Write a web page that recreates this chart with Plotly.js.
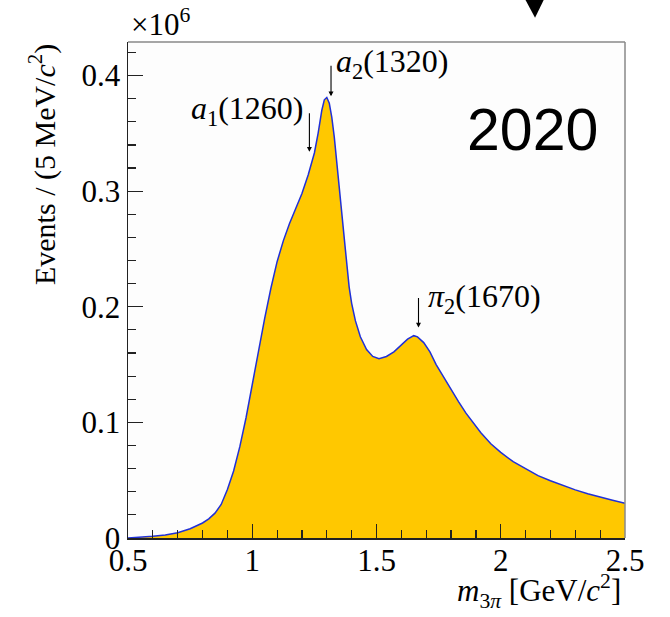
<!DOCTYPE html>
<html>
<head>
<meta charset="utf-8">
<script src="https://cdn.plot.ly/plotly-3.0.1.min.js"></script>
<style>html,body{margin:0;padding:0;background:#fff;}#chart{width:670px;height:617px;}</style>
</head>
<body>
<div id="chart"></div>
<script>
// m_3pi bin centres [GeV/c^2]
const mass = [0.50,0.55,0.60,0.65,0.70,0.75,0.80,0.825,0.85,0.875,0.90,0.925,0.95,0.975,1.00,1.025,1.05,1.075,1.10,1.125,1.15,1.175,1.20,1.225,1.25,1.265,1.28,1.29,1.30,1.31,1.32,1.33,1.34,1.35,1.36,1.375,1.39,1.40,1.415,1.435,1.46,1.485,1.51,1.54,1.57,1.60,1.625,1.65,1.665,1.69,1.715,1.74,1.77,1.80,1.83,1.86,1.89,1.92,1.96,2.00,2.05,2.10,2.15,2.20,2.25,2.30,2.35,2.40,2.45,2.50];
// Events per 5 MeV/c^2, in units of 10^6
const events = [0.0000,0.0005,0.0015,0.0025,0.0045,0.0080,0.0130,0.0165,0.0215,0.029,0.042,0.058,0.079,0.104,0.133,0.162,0.190,0.216,0.239,0.257,0.272,0.285,0.298,0.314,0.333,0.350,0.370,0.379,0.381,0.376,0.364,0.347,0.324,0.300,0.277,0.249,0.217,0.203,0.188,0.174,0.163,0.157,0.155,0.157,0.161,0.167,0.172,0.175,0.174,0.169,0.161,0.150,0.139,0.128,0.118,0.108,0.0998,0.091,0.0815,0.074,0.066,0.0598,0.054,0.0495,0.0455,0.0416,0.0383,0.0353,0.0327,0.0300];
const yTicks = [0,0.1,0.2,0.3,0.4];
const yTickText = ["0","0.1","0.2","0.3","0.4"];
const xTicks = [0.5,1,1.5,2,2.5];
const xTickText = ["0.5","1","1.5","2","2.5"];
const resonances = ["<i>a</i><sub>1</sub>(1260)","<i>a</i><sub>2</sub>(1320)","<i>π</i><sub>2</sub>(1670)"];
const resMass = [1.230,1.317,1.669];
const resTip = [0.334,0.382,0.182];

const serif = "Liberation Serif, Times New Roman, serif";
const trace = {
  x: mass, y: events, type: "scatter", mode: "lines",
  line: {color: "#2030d8", width: 1.5, shape: "linear"},
  fill: "tozeroy", fillcolor: "#ffc800", hoverinfo: "skip"
};

const ann = [
  {xref:"paper", yref:"paper", x:0.002, y:1.0, xanchor:"left", yanchor:"bottom", yshift:-2,
   text:"×10<sup>6</sup>", showarrow:false, font:{family:serif, size:31, color:"#000"}},
  {xref:"paper", yref:"paper", x:-0.172, y:1.0, xanchor:"center", yanchor:"top", textangle:-90,
   text:"Events / (5 MeV/<i>c</i><sup>2</sup>)", showarrow:false, font:{family:serif, size:30, color:"#000"}},
  {xref:"paper", yref:"paper", x:0.996, y:-0.106, xanchor:"right", yanchor:"middle",
   text:"<i>m</i><sub>3<i>π</i></sub> [GeV/<i>c</i><sup>2</sup>]", showarrow:false, font:{family:serif, size:31, color:"#000"}},
  {xref:"paper", yref:"paper", x:0.950, y:0.822, xanchor:"right", yanchor:"middle",
   text:"2020", showarrow:false, font:{family:"Liberation Sans, Arial, sans-serif", size:59, color:"#000"}}
];
// arrows
const tails = [40, 32, 31];
for (let i=0;i<3;i++){
  ann.push({x:resMass[i], y:resTip[i], xref:"x", yref:"y", ax:0, ay:-tails[i], text:"",
    showarrow:true, arrowhead:2, arrowsize:0.9, arrowwidth:1.1, arrowcolor:"#000", standoff:0});
}
// labels
ann.push({x:1.230, y:0.370, xref:"x", yref:"y", xanchor:"right", yanchor:"middle", text:resonances[0], showarrow:false, xshift:-3, font:{family:serif,size:32,color:"#000"}});
ann.push({x:1.336, y:0.410, xref:"x", yref:"y", xanchor:"left", yanchor:"middle", text:resonances[1], showarrow:false, xshift:-2, font:{family:serif,size:32,color:"#000"}});
ann.push({x:1.700, y:0.207, xref:"x", yref:"y", xanchor:"left", yanchor:"middle", text:resonances[2], showarrow:false, font:{family:serif,size:32,color:"#000"}});

const layout = {
  width:670, height:617,
  margin:{l:128, r:45, t:42, b:79, pad:0},
  paper_bgcolor:"#ffffff", plot_bgcolor:"#fdfdfd",
  showlegend:false,
  xaxis:{range:[0.5,2.5], tickvals:xTicks, ticktext:xTickText, ticks:"inside", ticklen:14, tickwidth:1.2, tickcolor:"#222",
    showline:true, linecolor:"#222", linewidth:1.5, showgrid:false, zeroline:false, ticklabelstandoff:-6,
    minor:{dtick:0.1, tick0:0.5, ticks:"inside", ticklen:8, tickwidth:1.2, tickcolor:"#222", showgrid:false},
    tickfont:{family:serif, size:31, color:"#000"}},
  yaxis:{range:[0,0.429], tickvals:yTicks, ticktext:yTickText, ticks:"inside", ticklen:15, tickwidth:1.2, tickcolor:"#222",
    showline:true, linecolor:"#222", linewidth:1.5, showgrid:false, zeroline:false,
    minor:{dtick:0.02, tick0:0, ticks:"inside", ticklen:8, tickwidth:1.2, tickcolor:"#222", showgrid:false},
    tickfont:{family:serif, size:31, color:"#000"}},
  annotations: ann,
  shapes:[
    {type:"line", xref:"paper", yref:"paper", x0:0, x1:1, y0:1, y1:1, line:{color:"#888", width:1.5}},
    {type:"line", xref:"paper", yref:"paper", x0:1, x1:1, y0:0, y1:1, line:{color:"#888", width:1.5}},
    {type:"path", xref:"paper", yref:"paper", path:"M 0.797 1.09 L 0.839 1.09 L 0.819 1.049 Z", fillcolor:"#000", line:{width:0}}
  ]
};
Plotly.newPlot("chart", [trace], layout, {displayModeBar:false, staticPlot:true});
</script>
</body>
</html>
